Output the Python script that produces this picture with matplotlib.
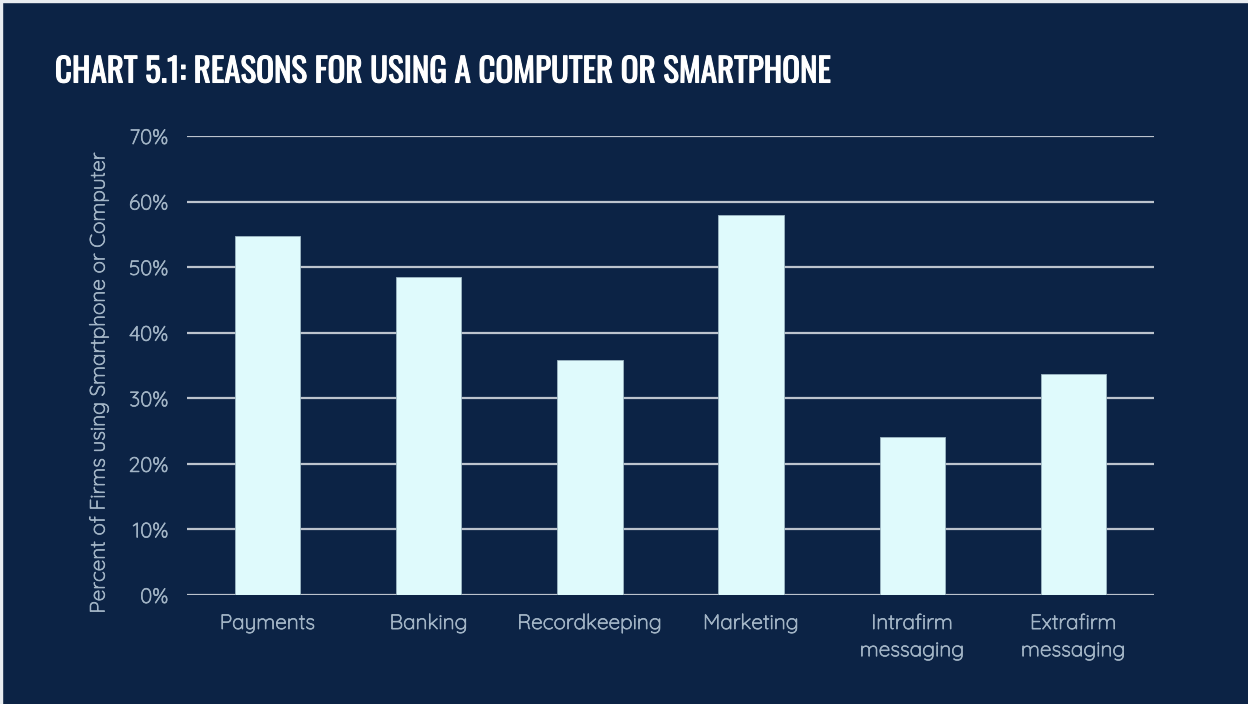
import matplotlib.pyplot as plt
import matplotlib.patheffects as pe
from matplotlib.patches import Rectangle

categories = ["Payments", "Banking", "Recordkeeping", "Marketing",
              "Intrafirm\nmessaging", "Extrafirm\nmessaging"]
share = [54.8, 48.5, 35.8, 58.0, 24.1, 33.7]
yticks = [0, 10, 20, 30, 40, 50, 60, 70]

navy = "#0c2345"
bar_color = "#dffafc"
grid_color = "#bcc3cd"
label_color = "#a3b5c6"
body_font = ["Quicksand", "Lato", "DejaVu Sans"]
title_font = ["Oswald", "DejaVu Sans"]

# fonts ship in a single weight, so thicken strokes a little
label_fx = [pe.withStroke(linewidth=0.5, foreground=label_color)]
title_fx = [pe.withStroke(linewidth=0.75, foreground="white")]

fig = plt.figure(figsize=(12.48, 7.04), dpi=100, facecolor=navy)
ax = fig.add_axes([0.1498, 0.1548, 0.7749, 0.652])
ax.set_facecolor(navy)

x = range(len(categories))
ax.bar(x, share, width=0.405, color=bar_color, edgecolor="#9fb9c4",
       linewidth=0.6, zorder=3)

ax.set_xlim(-0.5, len(categories) - 0.5)
ax.set_ylim(0, 70)
ax.set_yticks(yticks)
ax.set_yticklabels([f"{t}%" for t in yticks])
for t in yticks:
    ax.axhline(t, color=grid_color, linewidth=1.6, zorder=1)

ax.set_xticks(list(x))
ax.set_xticklabels(categories, linespacing=1.45)
ax.tick_params(axis="both", length=0, colors=label_color, labelsize=15)
ax.tick_params(axis="y", pad=13.5)
ax.tick_params(axis="x", pad=13)
for lbl in ax.get_xticklabels() + ax.get_yticklabels():
    lbl.set_fontfamily(body_font)
    lbl.set_path_effects(label_fx)
for s in ax.spines.values():
    s.set_visible(False)

ax.set_ylabel("Percent of Firms using Smartphone or Computer", color=label_color,
              fontsize=15, family=body_font, path_effects=label_fx)
ax.yaxis.set_label_coords(-0.081, 0.464)

fig.text(0.044, 0.897, "CHART 5.1: REASONS FOR USING A COMPUTER OR SMARTPHONE",
         color="white", fontsize=23.8, family=title_font,
         path_effects=title_fx, va="center", ha="left")

# thin light strip along the top and left edge
fig.patches.append(Rectangle((0, 0.997), 1, 0.003, transform=fig.transFigure,
                             color="#e8ecf0", zorder=0))
fig.patches.append(Rectangle((0, 0), 0.0016, 1, transform=fig.transFigure,
                             color="#e8ecf0", zorder=0))

fig.savefig("out.png", dpi=100, facecolor=navy)
